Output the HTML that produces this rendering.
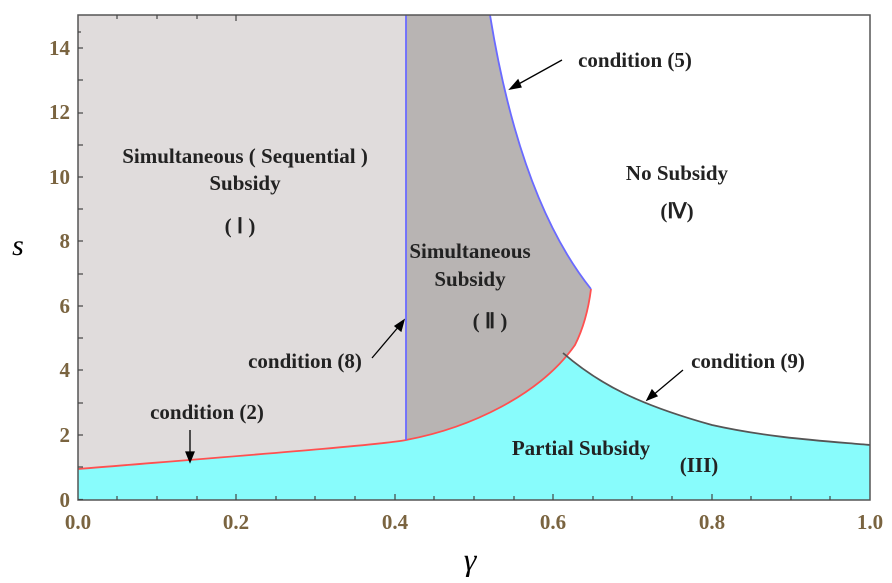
<!DOCTYPE html>
<html><head><meta charset="utf-8"><style>
body{margin:0;background:#fff}
svg text{font-family:"Liberation Serif",serif}
</style></head><body>
<svg width="892" height="578" viewBox="0 0 892 578">
<defs>
<clipPath id="c"><rect x="78" y="15" width="792" height="485"/></clipPath>
</defs>
<rect x="78" y="15" width="792" height="485" fill="#fff"/>
<g clip-path="url(#c)">
<path d="M78,15 L406,15 L406,440 C380,445 250,455 78,469 Z" fill="#e0dcdc"/>
<path d="M78,469 C250,455 380,445 406,440 C470,428 540,395 575,345 L561,352 C600,385 640,405 712,425 C770,438 825,441 870,445 L870,500 L78,500 Z" fill="#88fcfc"/>
<path d="M406,15 L490,15 Q520,200 591,289 C589,305 585,325 575,345 C540,395 470,428 406,440 Z" fill="#b8b4b3"/>
<path d="M78,469 C250,455 380,445 406,440 C470,428 540,395 575,345 C585,325 589,305 591,289" fill="none" stroke="#ff5050" stroke-width="1.8"/>
<line x1="406" y1="15" x2="406" y2="440" stroke="#6a6aff" stroke-width="1.8"/>
<path d="M490,15 Q520,200 591,289" fill="none" stroke="#6a6aff" stroke-width="1.8"/>
<path d="M563,353 C600,385 640,405 712,425 C770,438 825,441 870,445" fill="none" stroke="#555" stroke-width="1.8"/>
</g>
<rect x="78" y="15" width="792" height="485" fill="none" stroke="#555" stroke-width="1.5"/>
<g stroke="#444" stroke-width="1.2">
<line x1="78" y1="499.5" x2="83" y2="499.5"/><line x1="78" y1="467" x2="83" y2="467"/><line x1="78" y1="435" x2="83" y2="435"/><line x1="78" y1="403" x2="83" y2="403"/><line x1="78" y1="370" x2="83" y2="370"/><line x1="78" y1="338" x2="83" y2="338"/><line x1="78" y1="306" x2="83" y2="306"/><line x1="78" y1="274" x2="83" y2="274"/><line x1="78" y1="241" x2="83" y2="241"/><line x1="78" y1="209" x2="83" y2="209"/><line x1="78" y1="177" x2="83" y2="177"/><line x1="78" y1="145" x2="83" y2="145"/><line x1="78" y1="113" x2="83" y2="113"/><line x1="78" y1="80" x2="83" y2="80"/><line x1="78" y1="48" x2="83" y2="48"/><line x1="78" y1="32" x2="81" y2="32"/>
<line x1="117" y1="500" x2="117" y2="496"/><line x1="157" y1="500" x2="157" y2="496"/><line x1="197" y1="500" x2="197" y2="496"/><line x1="236" y1="500" x2="236" y2="494"/><line x1="276" y1="500" x2="276" y2="496"/><line x1="315" y1="500" x2="315" y2="496"/><line x1="355" y1="500" x2="355" y2="496"/><line x1="395" y1="500" x2="395" y2="494"/><line x1="434" y1="500" x2="434" y2="496"/><line x1="474" y1="500" x2="474" y2="496"/><line x1="514" y1="500" x2="514" y2="496"/><line x1="553" y1="500" x2="553" y2="494"/><line x1="593" y1="500" x2="593" y2="496"/><line x1="632" y1="500" x2="632" y2="496"/><line x1="672" y1="500" x2="672" y2="496"/><line x1="712" y1="500" x2="712" y2="494"/><line x1="751" y1="500" x2="751" y2="496"/><line x1="791" y1="500" x2="791" y2="496"/><line x1="830" y1="500" x2="830" y2="496"/>
<line x1="117" y1="15" x2="117" y2="19"/><line x1="157" y1="15" x2="157" y2="19"/><line x1="197" y1="15" x2="197" y2="19"/><line x1="236" y1="15" x2="236" y2="21"/>
</g>
<g fill="#7a6440" font-size="21" font-weight="bold" text-anchor="end">
<text x="70" y="507">0</text><text x="70" y="442">2</text><text x="70" y="377">4</text><text x="70" y="313">6</text><text x="70" y="248">8</text><text x="70" y="184">10</text><text x="70" y="119">12</text><text x="70" y="55">14</text>
</g>
<g fill="#7a6440" font-size="21" font-weight="bold" text-anchor="middle">
<text x="78" y="529">0.0</text><text x="236" y="529">0.2</text><text x="395" y="529">0.4</text><text x="553" y="529">0.6</text><text x="712" y="529">0.8</text><text x="870" y="529">1.0</text>
</g>
<text x="18" y="255" font-size="30" font-style="italic" text-anchor="middle">s</text>
<text x="470" y="570" font-size="32" font-style="italic" text-anchor="middle">γ</text>
<g font-size="21" font-weight="bold" fill="#222" text-anchor="middle">
<text x="245" y="163">Simultaneous ( Sequential )</text>
<text x="245" y="190">Subsidy</text>
<text x="240" y="233">( Ⅰ )</text>
<text x="470" y="258">Simultaneous</text>
<text x="470" y="286">Subsidy</text>
<text x="490" y="328">( Ⅱ )</text>
<text x="677" y="180">No Subsidy</text>
<text x="677" y="218">(Ⅳ)</text>
<text x="581" y="455">Partial Subsidy</text>
<text x="699" y="472">(III)</text>
<text x="635" y="67">condition (5)</text>
<text x="305" y="368">condition (8)</text>
<text x="207" y="419">condition (2)</text>
<text x="748" y="368">condition (9)</text>
</g>
<g stroke="#000" stroke-width="1.3" fill="#000">
<line x1="562" y1="60" x2="515" y2="86"/><path d="M510,89 L518,80 L521,87 Z"/>
<line x1="372" y1="358" x2="400" y2="325"/><path d="M404,320 L401,331 L395,326 Z"/>
<line x1="190" y1="430" x2="190" y2="455"/><path d="M190,462 L186,452 L194,452 Z"/>
<line x1="683" y1="370" x2="652" y2="396"/><path d="M647,400 L652,390 L657,396 Z"/>
</g>
</svg>
</body></html>
